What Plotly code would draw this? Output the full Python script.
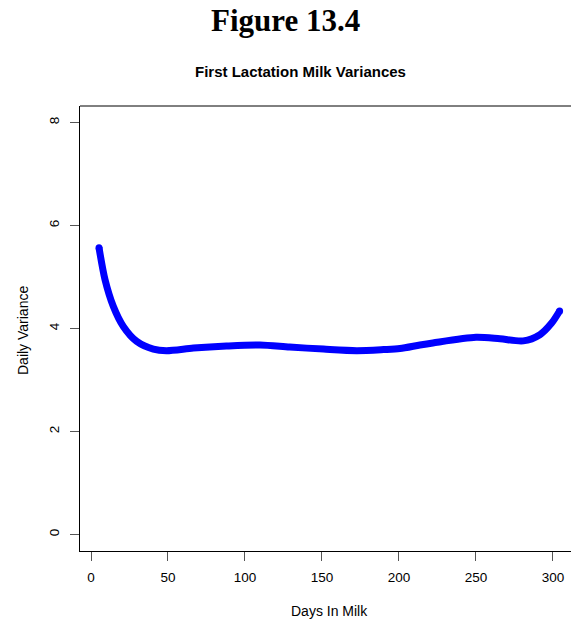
import plotly.graph_objects as go

days = [5.2, 9.1, 14.5, 21, 29.7, 40.5, 49, 66.5, 88, 109.7, 129, 151, 172.5, 190, 200.6,
        213.6, 222, 250, 265.6, 280.7, 291.5, 299, 304.3]
variance = [5.57, 4.95, 4.43, 4.04, 3.75, 3.60, 3.57, 3.62, 3.66, 3.68, 3.64, 3.60, 3.57,
            3.59, 3.61, 3.68, 3.72, 3.83, 3.80, 3.76, 3.88, 4.10, 4.34]
x_ticks = [0, 50, 100, 150, 200, 250, 300]
y_ticks = [0, 2, 4, 6, 8]

BLUE = "#0000ff"
FONT = "Liberation Sans, Arial, sans-serif"

fig = go.Figure()
fig.add_trace(go.Scatter(x=days, y=variance, mode="lines",
                         line=dict(color=BLUE, width=7, shape="spline", smoothing=0.8),
                         hoverinfo="skip"))
fig.add_trace(go.Scatter(x=[days[0], days[-1]], y=[variance[0], variance[-1]], mode="markers",
                         marker=dict(color=BLUE, size=7, line=dict(width=0)), hoverinfo="skip"))

fig.update_layout(
    width=571, height=620,
    margin=dict(l=80, r=0, t=106, b=69),
    paper_bgcolor="white", plot_bgcolor="white",
    showlegend=False,
    font=dict(family=FONT, size=13.5, color="black"),
    xaxis=dict(range=[-7.14, 311.7], tickvals=x_ticks, ticktext=[str(v) for v in x_ticks],
               showline=True, linecolor="black", linewidth=1,
               ticks="outside", ticklen=9, tickcolor="#555555", tickwidth=1,
               ticklabelstandoff=5, showgrid=False, zeroline=False),
    yaxis=dict(range=[-0.32, 8.32], tickvals=y_ticks, ticktext=[str(v) for v in y_ticks],
               showline=True, linecolor="black", linewidth=1,
               ticks="outside", ticklen=9, tickcolor="#555555", tickwidth=1,
               tickangle=-90, ticklabelstandoff=6, showgrid=False, zeroline=False),
    shapes=[dict(type="line", xref="paper", yref="paper", x0=0, x1=1, y0=1, y1=1,
                 line=dict(color="black", width=1))],
)

ann = [
    dict(text="<b>Figure 13.4</b>", x=126.2, y=21, xref="x", yref="paper",
         font=dict(family="Liberation Serif, Times New Roman, serif", size=31, color="black")),
    dict(text="<b>First Lactation Milk Variances</b>", x=136.2, y=72, xref="x", yref="paper",
         font=dict(family=FONT, size=15, color="black")),
    dict(text="Days In Milk", x=155, y=611, xref="x", yref="paper",
         font=dict(family=FONT, size=14, color="black")),
]
# convert pixel y to paper coordinates
plot_top, plot_bottom = 106, 551
for a in ann:
    a["y"] = (plot_bottom - a["y"]) / (plot_bottom - plot_top)
    a.update(showarrow=False, xanchor="center", yanchor="middle")
ann.append(dict(text="Daily Variance", showarrow=False, textangle=-90,
                xanchor="center", yanchor="middle",
                x=(23 - 80) / (571 - 80), y=(plot_bottom - 331) / (plot_bottom - plot_top),
                xref="paper", yref="paper", font=dict(family=FONT, size=14, color="black")))
fig.update_layout(annotations=ann)

fig.write_html("out.html")
